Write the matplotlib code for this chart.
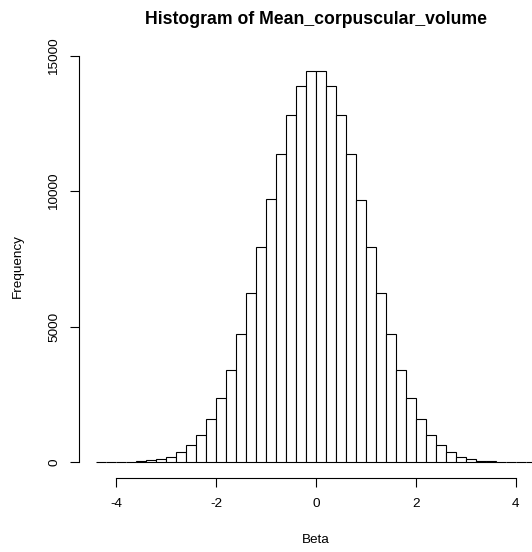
import matplotlib
matplotlib.use("Agg")
import matplotlib.pyplot as plt
import numpy as np

# bin edges from -4.4 to 4.4 in steps of 0.2 (44 bins)
bin_start = -4.4
bin_width = 0.2
counts = [
    3, 6, 12, 22, 40, 74, 122, 210, 370, 640,          # -4.4 .. -2.4
    1024, 1600, 2391, 3411, 4750, 6250, 7950, 9697,    # -2.4 .. -0.8
    11371, 12800, 13884, 14450,                        # -0.8 .. 0.0
    14450, 13870, 12823, 11371,                        # 0.0 .. 0.8
    9690, 7950, 6250, 4750, 3411, 2391, 1600, 1024,    # 0.8 .. 2.4
    640, 370, 210, 122, 65, 40, 22, 12, 6, 3,          # 2.4 .. 4.4
]
x_ticks = [-4, -2, 0, 2, 4]
y_ticks = [0, 5000, 10000, 15000]
title = "Histogram of Mean_corpuscular_volume"
x_label = "Beta"
y_label = "Frequency"

plt.rcParams["font.family"] = ["Liberation Sans", "DejaVu Sans"]

W, H = 532, 552
fig = plt.figure(figsize=(W / 100, H / 100), dpi=100)

# plot region in pixels (R style, right side runs past the picture edge)
left_px, right_px, top_px, bottom_px = 78.5, 553.5, 55.0, 478.0
ax = fig.add_axes([left_px / W, 1 - bottom_px / H,
                   (right_px - left_px) / W, (bottom_px - top_px) / H])

lefts = bin_start + bin_width * np.arange(len(counts))
ax.bar(lefts, counts, width=bin_width, align="edge",
       facecolor="white", edgecolor="black", linewidth=0.8)

xmin, xmax = bin_start, bin_start + bin_width * len(counts)
xpad = 0.04 * (xmax - xmin) / 1.0
ax.set_xlim(xmin - 0.04 * (xmax - xmin), xmax + 0.04 * (xmax - xmin))
ymax = max(counts)
ax.set_ylim(-0.04 * ymax, 1.04 * ymax)

for side in ["top", "right"]:
    ax.spines[side].set_visible(False)
ax.spines["left"].set_bounds(y_ticks[0], y_ticks[-1])
ax.spines["bottom"].set_bounds(x_ticks[0], x_ticks[-1])
for side in ["left", "bottom"]:
    ax.spines[side].set_linewidth(0.8)

ax.set_xticks(x_ticks)
ax.set_xticklabels([str(v) for v in x_ticks])
ax.set_yticks(y_ticks)
ax.set_yticklabels([str(v) for v in y_ticks], rotation=90, va="center")
ax.tick_params(axis="both", length=6.5, width=0.8, labelsize=9.7)
ax.tick_params(axis="x", pad=7.6)
ax.tick_params(axis="y", pad=6.7)

fig.text(316 / W, 1 - 20 / H, title, ha="center", va="center",
         fontsize=12.7, fontweight="bold")
fig.text(316 / W, 1 - 540 / H, x_label, ha="center", va="center", fontsize=9.7)
fig.text(18 / W, 1 - 266 / H, y_label, ha="center", va="center",
         rotation=90, fontsize=9.7)

fig.savefig("out.png", dpi=100)
